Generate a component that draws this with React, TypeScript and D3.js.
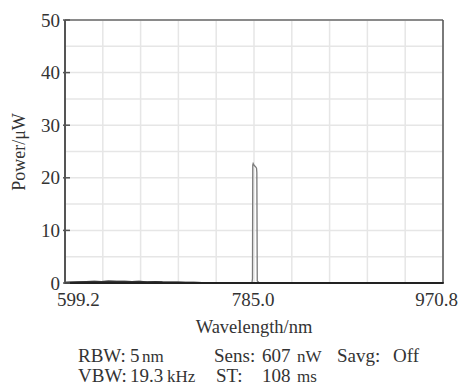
import React from "react";
import * as d3 from "d3";

const wavelengths = [
  599.2, 605, 612, 620, 628, 635, 642, 650, 658, 665, 672, 680, 688, 695, 702, 710,
  718, 726, 734, 742, 750, 758, 766, 774, 780, 783.0, 783.5, 783.8, 784.2, 785.0,
  786.0, 787.0, 787.5, 787.8, 788.2, 790, 800, 820, 850, 880, 910, 940, 970.8,
];
const powers = [
  0.1, 0.15, 0.2, 0.25, 0.3, 0.28, 0.35, 0.3, 0.32, 0.28, 0.3, 0.22, 0.25, 0.2, 0.18, 0.15,
  0.12, 0.1, 0.08, 0.08, 0.06, 0.05, 0.05, 0.05, 0.06, 0.1, 0.8, 22.4, 22.7, 22.4,
  22.2, 22.0, 21.8, 21.0, 0.4, 0.06, 0.04, 0.04, 0.04, 0.04, 0.04, 0.04, 0.04,
];
const yTicks = [0, 10, 20, 30, 40, 50];
const xTickLabels = ["599.2", "785.0", "970.8"];

const FONT = "'Liberation Serif', 'Times New Roman', serif";

export default function App() {
  const W = 459, H = 390;
  const L = 65, R = 443, T = 20, B = 283;
  const x = d3.scaleLinear().domain([599.2, 970.8]).range([L, R]);
  const y = d3.scaleLinear().domain([0, 50]).range([B, T]);
  const gridX = d3.range(0, 11).map((i) => L + (i * (R - L)) / 10);
  const gridY = d3.range(0, 55, 5);
  const line = d3
    .line<number>()
    .x((_, i) => x(wavelengths[i]))
    .y((d) => y(d));
  const pathD = line(powers) || "";
  const noiseD = line(powers.slice(0, 25)) || "";

  const unit = { fontSize: 17 };
  return (
    <svg
      width={W}
      height={H}
      style={{ position: "absolute", left: 0, top: 0, background: "#fff" }}
      fontFamily={FONT}
    >
      <rect x={0} y={0} width={W} height={H} fill="#fff" />
      {gridX.map((gx, i) => (
        <line key={"gx" + i} x1={gx} x2={gx} y1={T} y2={B} stroke="#e6e6e6" strokeWidth={1.5} />
      ))}
      {gridY.map((v, i) => (
        <line key={"gy" + i} x1={L} x2={R} y1={y(v)} y2={y(v)} stroke="#e6e6e6" strokeWidth={1.5} />
      ))}
      <path d={pathD} fill="none" stroke="#7a7a7a" strokeWidth={1.3} />
      <path d={noiseD} fill="none" stroke="#333" strokeWidth={1.2} />
      <line x1={L} x2={R} y1={T} y2={T} stroke="#6a6a6a" strokeWidth={1.5} />
      <line x1={R} x2={R} y1={T} y2={B} stroke="#555" strokeWidth={1.5} />
      <line x1={L} x2={L} y1={T} y2={B + 1} stroke="#555" strokeWidth={2} />
      <line x1={L} x2={R + 0.75} y1={B} y2={B} stroke="#222" strokeWidth={2} />
      {yTicks.map((v) => (
        <g key={"yt" + v}>
          <line x1={L - 2} x2={L + 5} y1={y(v)} y2={y(v)} stroke="#555" strokeWidth={1.5} />
          <text x={L - 5} y={y(v) + 6.5} textAnchor="end" fontSize={19} fill="#333">
            {v}
          </text>
        </g>
      ))}
      <text x={57} y={306} textAnchor="start" fontSize={19} fill="#333">{xTickLabels[0]}</text>
      <text x={253} y={306} textAnchor="middle" fontSize={19} fill="#333">{xTickLabels[1]}</text>
      <text x={458} y={306} textAnchor="end" fontSize={19} fill="#333">{xTickLabels[2]}</text>
      <text x={254} y={333} textAnchor="middle" fontSize={18.5} fill="#333">Wavelength/nm</text>
      <text
        transform={`translate(25,152) rotate(-90)`}
        textAnchor="middle"
        fontSize={18}
        fill="#333"
      >
        Power/μW
      </text>
      <g fontSize={19} fill="#333">
        <text x={78} y={362}>RBW:</text>
        <text x={130} y={362}>5</text>
        <text x={142} y={362} {...unit}>nm</text>
        <text x={214} y={362}>Sens:</text>
        <text x={262} y={362}>607</text>
        <text x={297} y={362} {...unit}>nW</text>
        <text x={337} y={362}>Savg:</text>
        <text x={393} y={362}>Off</text>
        <text x={78} y={382}>VBW:</text>
        <text x={130} y={382}>19.3</text>
        <text x={167} y={382} {...unit}>kHz</text>
        <text x={216} y={382}>ST:</text>
        <text x={262} y={382}>108</text>
        <text x={297} y={382} {...unit}>ms</text>
      </g>
    </svg>
  );
}
